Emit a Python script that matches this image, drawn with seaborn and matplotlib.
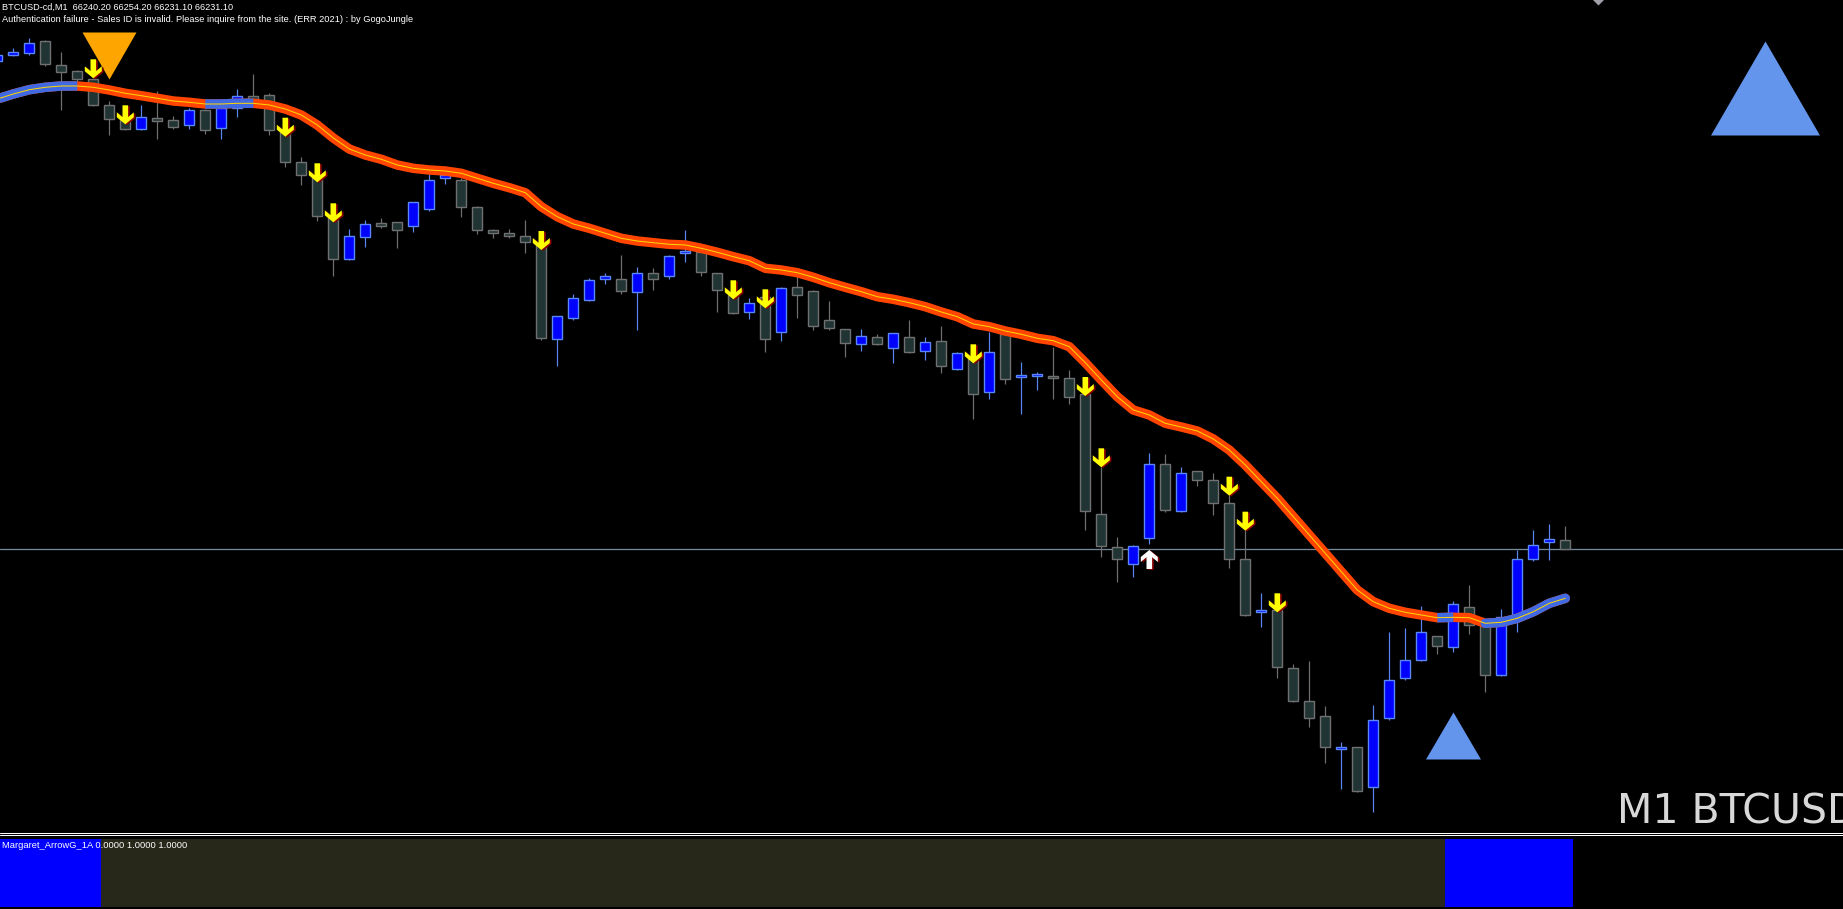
import numpy as np
import matplotlib
matplotlib.use("Agg")
import matplotlib.pyplot as plt
import matplotlib.patheffects as pe
from matplotlib.lines import Line2D
import seaborn as sns

# ---- values ----
opens = [
    66719.5, 66724.7, 66727.3, 66738.7, 66714.7, 66708.7, 66700.7, 66674.7, 66660.0, 66650.7,
    66661.7, 66659.7, 66654.7, 66669.7, 66651.7, 66672.0, 66684.5, 66685.0, 66649.0, 66618.0,
    66603.3, 66563.3, 66520.7, 66542.7, 66557.0, 66558.0, 66553.7, 66571.3, 66602.0, 66599.7,
    66572.7, 66549.7, 66546.7, 66543.7, 66537.3, 66440.7, 66462.3, 66479.7, 66500.7, 66500.7,
    66487.7, 66506.7, 66504.3, 66526.7, 66528.3, 66506.7, 66485.0, 66467.7, 66483.0, 66447.7,
    66492.7, 66488.7, 66459.7, 66450.7, 66435.7, 66442.7, 66431.7, 66442.7, 66428.7, 66438.7,
    66411.3, 66423.0, 66387.7, 66446.0, 66402.7, 66403.7, 66403.7, 66401.7, 66385.7, 66265.7,
    66232.7, 66215.7, 66241.7, 66315.7, 66268.7, 66308.7, 66299.7, 66276.7, 66220.7, 66167.7,
    66169.7, 66111.7, 66078.7, 66063.7, 66030.7, 66032.7, 65992.7, 66061.7, 66101.7, 66119.7,
    66143.7, 66132.7, 66172.7, 66156.7, 66104.7, 66162.0, 66220.7, 66237.7, 66240.2]
highs = [
    66727.0, 66732.3, 66741.7, 66740.0, 66728.0, 66710.0, 66701.5, 66679.0, 66662.0, 66675.0,
    66689.0, 66664.3, 66671.7, 66671.5, 66673.3, 66691.0, 66706.0, 66686.7, 66650.0, 66623.0,
    66604.0, 66565.0, 66551.0, 66560.0, 66562.0, 66558.5, 66578.5, 66605.7, 66608.0, 66602.0,
    66574.0, 66551.0, 66551.0, 66560.0, 66538.0, 66464.0, 66486.0, 66502.0, 66507.3, 66525.0,
    66513.0, 66512.0, 66525.0, 66550.0, 66530.0, 66507.0, 66487.0, 66481.7, 66484.0, 66492.7,
    66511.7, 66490.0, 66479.0, 66451.0, 66451.0, 66446.0, 66447.0, 66460.0, 66443.0, 66454.0,
    66428.0, 66425.0, 66448.3, 66452.0, 66418.0, 66408.0, 66433.3, 66410.0, 66386.0, 66313.3,
    66243.0, 66234.7, 66327.0, 66326.0, 66313.0, 66309.0, 66306.7, 66285.0, 66250.0, 66187.0,
    66170.0, 66115.7, 66119.0, 66074.0, 66038.3, 66033.0, 66075.0, 66148.0, 66151.7, 66173.7,
    66144.0, 66179.0, 66195.0, 66160.0, 66170.7, 66230.0, 66250.0, 66256.0, 66254.2]
lows = [
    66718.0, 66724.5, 66725.3, 66714.3, 66670.3, 66699.0, 66674.0, 66645.0, 66650.0, 66650.5,
    66641.3, 66650.7, 66650.7, 66645.7, 66641.3, 66663.3, 66680.0, 66645.3, 66613.3, 66595.0,
    66559.3, 66504.0, 66520.5, 66533.3, 66552.0, 66532.3, 66548.3, 66569.3, 66596.3, 66563.3,
    66546.3, 66542.3, 66542.3, 66527.3, 66440.0, 66414.0, 66460.0, 66479.5, 66496.3, 66486.3,
    66450.0, 66490.0, 66501.3, 66518.3, 66504.3, 66468.3, 66466.5, 66461.3, 66428.3, 66439.3,
    66462.3, 66450.0, 66450.0, 66423.3, 66429.3, 66435.0, 66417.3, 66427.0, 66420.3, 66407.3,
    66410.0, 66361.3, 66381.3, 66396.3, 66366.3, 66390.3, 66381.3, 66376.3, 66250.3, 66223.3,
    66198.3, 66202.7, 66235.7, 66267.7, 66268.5, 66294.3, 66265.3, 66212.3, 66164.5, 66153.3,
    66102.3, 66078.5, 66053.3, 66016.7, 65990.7, 65988.5, 65967.7, 66059.7, 66100.3, 66119.5,
    66125.7, 66128.3, 66146.3, 66088.3, 66104.5, 66148.3, 66219.3, 66220.0, 66231.1]
closes = [
    66725.0, 66727.7, 66736.7, 66715.7, 66707.7, 66700.7, 66674.7, 66661.3, 66650.7, 66662.7,
    66658.7, 66652.7, 66669.7, 66649.7, 66672.3, 66683.7, 66681.5, 66650.3, 66617.7, 66605.3,
    66564.3, 66520.7, 66543.7, 66555.7, 66554.3, 66549.7, 66577.7, 66599.7, 66605.0, 66572.7,
    66549.7, 66546.7, 66544.3, 66537.7, 66442.3, 66463.7, 66481.7, 66499.7, 66503.7, 66488.7,
    66506.7, 66501.3, 66523.7, 66529.3, 66507.7, 66489.7, 66467.3, 66476.7, 66440.7, 66491.7,
    66485.3, 66454.3, 66451.7, 66436.7, 66443.7, 66436.3, 66446.7, 66427.7, 66437.7, 66413.7,
    66426.7, 66385.7, 66427.7, 66400.7, 66404.7, 66405.7, 66401.7, 66382.7, 66268.7, 66233.7,
    66220.7, 66233.7, 66315.7, 66269.7, 66306.7, 66299.7, 66276.7, 66220.7, 66164.7, 66169.7,
    66112.7, 66078.7, 66061.7, 66032.7, 66032.7, 65988.7, 66059.7, 66099.7, 66119.7, 66147.7,
    66133.7, 66175.7, 66154.7, 66104.7, 66162.7, 66220.7, 66234.7, 66240.7, 66231.1]

# trend line of the indicator, one value per bar
ma_values = [
    66681.0, 66686.0, 66690.3, 66692.7, 66694.0, 66694.0, 66692.7, 66690.0, 66686.7, 66684.3,
    66681.7, 66679.0, 66677.7, 66676.0, 66676.0, 66676.7, 66676.7, 66675.0, 66671.0, 66665.0,
    66655.0, 66642.0, 66631.0, 66625.0, 66620.7, 66615.0, 66611.7, 66610.0, 66609.0, 66606.7,
    66601.7, 66596.7, 66592.3, 66587.3, 66573.3, 66563.3, 66556.0, 66551.7, 66546.7, 66541.7,
    66539.0, 66537.3, 66535.7, 66535.0, 66531.7, 66527.7, 66523.3, 66519.3, 66511.7, 66510.0,
    66507.3, 66502.7, 66497.3, 66492.7, 66488.3, 66483.3, 66480.7, 66477.3, 66473.3, 66468.0,
    66463.3, 66456.0, 66453.3, 66449.0, 66445.7, 66441.7, 66439.3, 66433.3, 66417.3, 66400.0,
    66383.3, 66370.0, 66365.0, 66356.7, 66353.0, 66349.0, 66341.0, 66330.0, 66315.0, 66298.3,
    66281.7, 66263.3, 66245.0, 66226.7, 66208.3, 66190.0, 66178.3, 66171.7, 66167.7, 66165.0,
    66162.3, 66162.7, 66162.3, 66156.7, 66157.7, 66161.7, 66168.3, 66176.7, 66181.7]
# bar ranges where the trend line is drawn blue (up) instead of red (down)
up_trend_ranges = [(0, 5), (13, 16), (90, 91), (93, 98)]

down_arrow_bars = [6, 8, 18, 20, 21, 34, 46, 48, 61, 68, 69, 77, 78, 80]
down_arrow_prices = [66701.7, 66655.7, 66643.3, 66597.7, 66557.7, 66530.0, 66480.7,
                     66471.7, 66416.7, 66384.0, 66312.7, 66284.3, 66249.3, 66167.7]
up_arrow_bars = [72]
up_arrow_prices = [66230.0]

sell_signal_bar, sell_signal_price = 7, 66748.0
buy_signal_bar, buy_signal_price = 91, 66021.0
bid_price = 66231.10

# sub window histogram: blue bars, the rest dark olive
hist_blue_bars = list(range(0, 7)) + list(range(91, 99))
hist_values = "0.0000 1.0000 1.0000"

symbol = "BTCUSD-cd"
timeframe = "M1"
auth_msg = ("Authentication failure - Sales ID is invalid. Please inquire from the site. "
            "(ERR 2021) : by GogoJungle")
indicator_name = "Margaret_ArrowG_1A"

# ---- layout (pixels of the 1843x909 screen) ----
W, H = 1843, 909
MAIN_BOTTOM = 830
SUB_TOP, SUB_BOTTOM = 839, 907
BAR_PX, BAR0_PX = 16.0, -2.7
PRICE_TOP = 66780.0
PX = 0.72  # points per pixel at dpi 100

bars = np.arange(len(opens))
o, h, l, c = map(np.asarray, (opens, highs, lows, closes))
ma = np.asarray(ma_values)
bull = c >= o

sns.set_theme(style="dark", rc={"axes.facecolor": "black", "figure.facecolor": "black"})
plt.rcParams["font.family"] = ["Liberation Sans", "DejaVu Sans"]

fig = plt.figure(figsize=(W / 100, H / 100), dpi=100, facecolor="black")
ax = fig.add_axes([0, 1 - MAIN_BOTTOM / H, 1, MAIN_BOTTOM / H])
ax2 = fig.add_axes([0, 1 - SUB_BOTTOM / H, 1, (SUB_BOTTOM - SUB_TOP) / H])

xlim = ((0 - BAR0_PX) / BAR_PX, (W - BAR0_PX) / BAR_PX)
for a in (ax, ax2):
    a.set_xlim(*xlim)
    a.set_axis_off()
ax.set_ylim(PRICE_TOP - MAIN_BOTTOM, PRICE_TOP)
ax2.set_ylim(0, 1)

# bid line
ax.axhline(bid_price, color="#778899", lw=1.3 * PX, zorder=1)

# candles
bull_face, bull_edge = "#0000ff", "#5b87f5"
bear_face, bear_edge = "#213434", "#707070"
edges = np.where(bull, bull_edge, bear_edge)
faces = np.where(bull, bull_face, bear_face)
ax.vlines(bars, l, h, colors=edges, lw=1.2 * PX, zorder=2)
ax.bar(bars, np.abs(c - o), bottom=np.minimum(o, c), width=0.64,
       color=faces, edgecolor=edges, linewidth=1.4 * PX, zorder=3)

# trend line: red everywhere, blue over the up ranges, thin yellow core
lw_ma = 9.5 * PX
sns.lineplot(x=bars, y=ma, ax=ax, color="#ff4500", linewidth=lw_ma, zorder=4,
             solid_capstyle="round", solid_joinstyle="round", legend=False)
for a0, a1 in up_trend_ranges:
    cap = "round" if a1 == bars[-1] else "butt"
    ax.plot(bars[a0:a1 + 1], ma[a0:a1 + 1], color="#4169e1", lw=lw_ma, zorder=4.1,
            solid_capstyle=cap, solid_joinstyle="round")
ax.plot(bars, ma, color="#ffd700", lw=1.0 * PX, zorder=4.2)

# arrows (tip at the data point), shapes in pixels
down_arrow = [(0, 0), (8.5, 7.0), (8.5, 12.0), (2.8, 7.2), (2.8, 19.0),
              (-2.8, 19.0), (-2.8, 7.2), (-8.5, 12.0), (-8.5, 7.0)]
up_arrow = [(x, -y) for x, y in down_arrow]
shadow = [pe.SimplePatchShadow(offset=(1.2, -0.6), shadow_rgbFace="#8b0000", alpha=1),
          pe.Normal()]
ax.plot(down_arrow_bars, down_arrow_prices, ls="none", marker=down_arrow,
        ms=2 * 19.0 * PX, mfc="#ffff00", mec="none", zorder=6, path_effects=shadow)
ax.plot(up_arrow_bars, up_arrow_prices, ls="none", marker=up_arrow,
        ms=2 * 19.0 * PX, mfc="white", mec="none", zorder=6, path_effects=shadow)

# big signal triangles
sell_tri = [(-27, 0), (27, 0), (0, -47)]
buy_tri = [(-27.5, 0), (27.5, 0), (0, 47)]
ax.plot([sell_signal_bar], [sell_signal_price], ls="none", marker=sell_tri,
        ms=2 * 47 * PX, mfc="#ffa500", mec="none", zorder=5)
ax.plot([buy_signal_bar], [buy_signal_price], ls="none", marker=buy_tri,
        ms=2 * 47 * PX, mfc="#6495ed", mec="none", zorder=5)
# dashboard triangle in the top right corner
big_tri = [(-54.5, 0), (54.5, 0), (0, 94)]
ax.plot([1764.5 / W], [1 - 135 / MAIN_BOTTOM], ls="none", marker=big_tri,
        ms=2 * 94 * PX, mfc="#6495ed", mec="none", transform=ax.transAxes, zorder=5)
ax.plot([1597.5 / W], [1 + 1.5 / MAIN_BOTTOM], ls="none", marker="D", ms=9 * PX,
        mfc="#a0a0a8", mec="none", transform=ax.transAxes, zorder=5, clip_on=True)

# sub window histogram
hist_colors = ["#0000ff" if b in hist_blue_bars else "#28281a" for b in bars]
ax2.bar(bars, np.ones(len(bars)), width=1.0, color=hist_colors, linewidth=0,
        antialiased=False)

# separator between windows
for ypx in (832.5, 834.5):
    fig.add_artist(Line2D([0, 1], [1 - ypx / H] * 2, transform=fig.transFigure,
                          color="white", lw=1.0 * PX))

# texts
header = f"{symbol},{timeframe}  {o[-1]:.2f} {h[-1]:.2f} {l[-1]:.2f} {c[-1]:.2f}"
fig.text(2 / W, 1 - 10.3 / H, header, color="white", fontsize=6.6, va="baseline")
fig.text(2 / W, 1 - 22.3 / H, auth_msg, color="white", fontsize=6.7, va="baseline")
fig.text(2 / W, 1 - 848.5 / H, f"{indicator_name} {hist_values}", color="white",
         fontsize=6.75, va="baseline")
fig.text(1617 / W, 1 - 823 / H, f"{timeframe} BTCUSD", color="#d8d8d8", fontsize=29.5,
         family="DejaVu Sans", va="baseline")

fig.savefig("out.png", dpi=100, facecolor="black")
